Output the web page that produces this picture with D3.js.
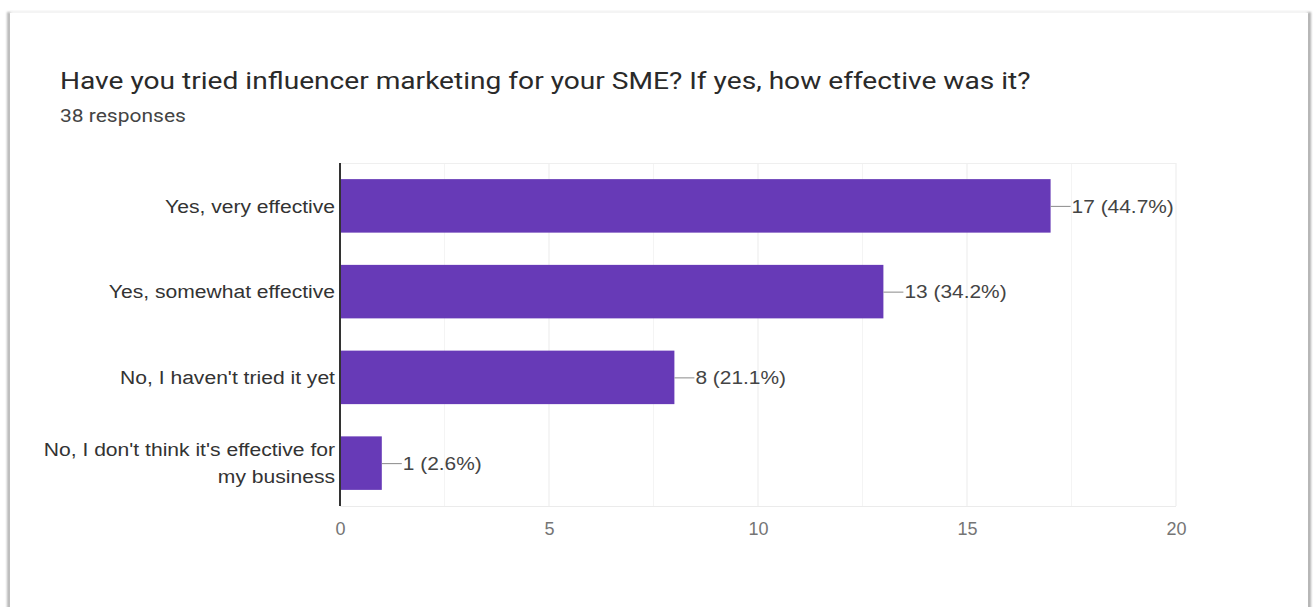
<!DOCTYPE html>
<html>
<head>
<meta charset="utf-8">
<script src="https://cdn.jsdelivr.net/npm/d3@7"></script>
<style>
  html, body { margin: 0; padding: 0; background: #fff; }
  svg { display: block; }
</style>
</head>
<body>
<svg id="chart" width="1316" height="607"></svg>
<script>
// Survey answers and their counts
const categories = [
  "Yes, very effective",
  "Yes, somewhat effective",
  "No, I haven't tried it yet",
  "No, I don't think it's effective for my business"
];
const counts = [17, 13, 8, 1];
const percents = ["44.7%", "34.2%", "21.1%", "2.6%"];
const xTicks = [0, 5, 10, 15, 20];
const minorTicks = [2.5, 7.5, 12.5, 17.5];
// Category labels split onto lines where they wrap
const labelLines = [
  ["Yes, very effective"],
  ["Yes, somewhat effective"],
  ["No, I haven't tried it yet"],
  ["No, I don't think it's effective for", "my business"]
];

const title = "Have you tried influencer marketing for your SME? If yes, how effective was it?";
const subtitle = "38 responses";

// Text in this layout is drawn slightly wide
const stretch = (x0, k) => `translate(${x0},0) scale(${k},1) translate(${-x0},0)`;

const svg = d3.select("#chart");

// Card with soft edge shadows
const defs = svg.append("defs");
const blur = defs.append("filter").attr("id", "soft").attr("x", "-50%").attr("y", "-50%").attr("width", "200%").attr("height", "200%");
blur.append("feGaussianBlur").attr("stdDeviation", 1.2);

svg.append("rect").attr("x", 7).attr("y", 12).attr("width", 4).attr("height", 610)
  .attr("fill", "#b8b8b8").attr("filter", "url(#soft)");
svg.append("rect").attr("x", 1307).attr("y", 12).attr("width", 4).attr("height", 610)
  .attr("fill", "#b0b0b0").attr("filter", "url(#soft)");
svg.append("rect").attr("x", 10).attr("y", 11).attr("width", 1298).attr("height", 2)
  .attr("fill", "#ececec").attr("filter", "url(#soft)");
svg.append("rect").attr("x", 10).attr("y", 13).attr("width", 1298).attr("height", 600)
  .attr("fill", "#fff");

// Title block
svg.append("text").attr("x", 60).attr("y", 89)
  .attr("transform", stretch(60, 1.148))
  .attr("font-family", "Roboto, sans-serif").attr("font-size", 24.5)
  .attr("fill", "#2a2a2a").text(title);
svg.append("text").attr("x", 60).attr("y", 122)
  .attr("transform", stretch(60, 1.136))
  .attr("font-family", "Roboto, sans-serif").attr("font-size", 18.5)
  .attr("fill", "#444").text(subtitle);

// Scales
const x = d3.scaleLinear().domain([0, 20]).range([340, 1176]);
const y = d3.scaleBand().domain(categories).range([163, 506])
  .paddingInner(0.376).paddingOuter(0.188);

const plot = svg.append("g");

// Gridlines
plot.selectAll("line.minor").data(minorTicks).join("line")
  .attr("class", "minor")
  .attr("x1", d => x(d)).attr("x2", d => x(d))
  .attr("y1", 163).attr("y2", 506)
  .attr("stroke", "#f4f4f4").attr("stroke-width", 1);
plot.selectAll("line.major").data(xTicks.slice(1)).join("line")
  .attr("class", "major")
  .attr("x1", d => x(d)).attr("x2", d => x(d))
  .attr("y1", 163).attr("y2", 506)
  .attr("stroke", "#ebebeb").attr("stroke-width", 1);
plot.append("line").attr("x1", x(0)).attr("x2", x(20)).attr("y1", 163.5).attr("y2", 163.5)
  .attr("stroke", "#efefef");
plot.append("line").attr("x1", x(0)).attr("x2", x(20)).attr("y1", 506.5).attr("y2", 506.5)
  .attr("stroke", "#ebebeb");

// Bars
plot.selectAll("rect.bar").data(categories).join("rect")
  .attr("class", "bar")
  .attr("x", x(0))
  .attr("y", d => y(d))
  .attr("width", (d, i) => x(counts[i]) - x(0))
  .attr("height", y.bandwidth())
  .attr("fill", "#673ab7");

// Value leader lines and labels
plot.selectAll("line.leader").data(categories).join("line")
  .attr("class", "leader")
  .attr("x1", (d, i) => x(counts[i]))
  .attr("x2", (d, i) => x(counts[i]) + 20)
  .attr("y1", d => y(d) + y.bandwidth() / 2 + 0.5)
  .attr("y2", d => y(d) + y.bandwidth() / 2 + 0.5)
  .attr("stroke", "#8a8a8a").attr("stroke-width", 1);
plot.selectAll("text.value").data(categories).join("text")
  .attr("class", "value")
  .attr("x", (d, i) => x(counts[i]) + 21)
  .attr("y", d => y(d) + y.bandwidth() / 2)
  .attr("transform", (d, i) => stretch(x(counts[i]) + 21, 1.1))
  .attr("dy", "0.36em")
  .attr("font-family", "Arial, 'Liberation Sans', sans-serif")
  .attr("font-size", 19)
  .attr("fill", "#444")
  .text((d, i) => `${counts[i]} (${percents[i]})`);

// Category labels
const lineGap = 27;
plot.selectAll("text.cat").data(categories).join("text")
  .attr("class", "cat")
  .attr("text-anchor", "end")
  .attr("transform", stretch(335, 1.11))
  .attr("font-family", "Arial, 'Liberation Sans', sans-serif")
  .attr("font-size", 19)
  .attr("fill", "#333")
  .each(function(d, i) {
    const lines = labelLines[i];
    const cy = y(d) + y.bandwidth() / 2;
    const startY = cy - (lines.length - 1) * lineGap / 2;
    d3.select(this).selectAll("tspan").data(lines).join("tspan")
      .attr("x", 335)
      .attr("y", (l, j) => startY + j * lineGap)
      .attr("dy", "0.36em")
      .text(l => l);
  });

// Bottom tick labels
const xAxis = d3.axisBottom(x).tickValues(xTicks).tickSize(0).tickPadding(16);
const gx = svg.append("g").attr("transform", "translate(0,506)").call(xAxis);
gx.select(".domain").remove();
gx.selectAll("text")
  .attr("font-family", "Arial, 'Liberation Sans', sans-serif")
  .attr("font-size", 18)
  .attr("fill", "#757575");

// Left axis line
plot.append("line").attr("x1", x(0)).attr("x2", x(0)).attr("y1", 163).attr("y2", 506)
  .attr("stroke", "#333").attr("stroke-width", 2);
</script>
</body>
</html>
